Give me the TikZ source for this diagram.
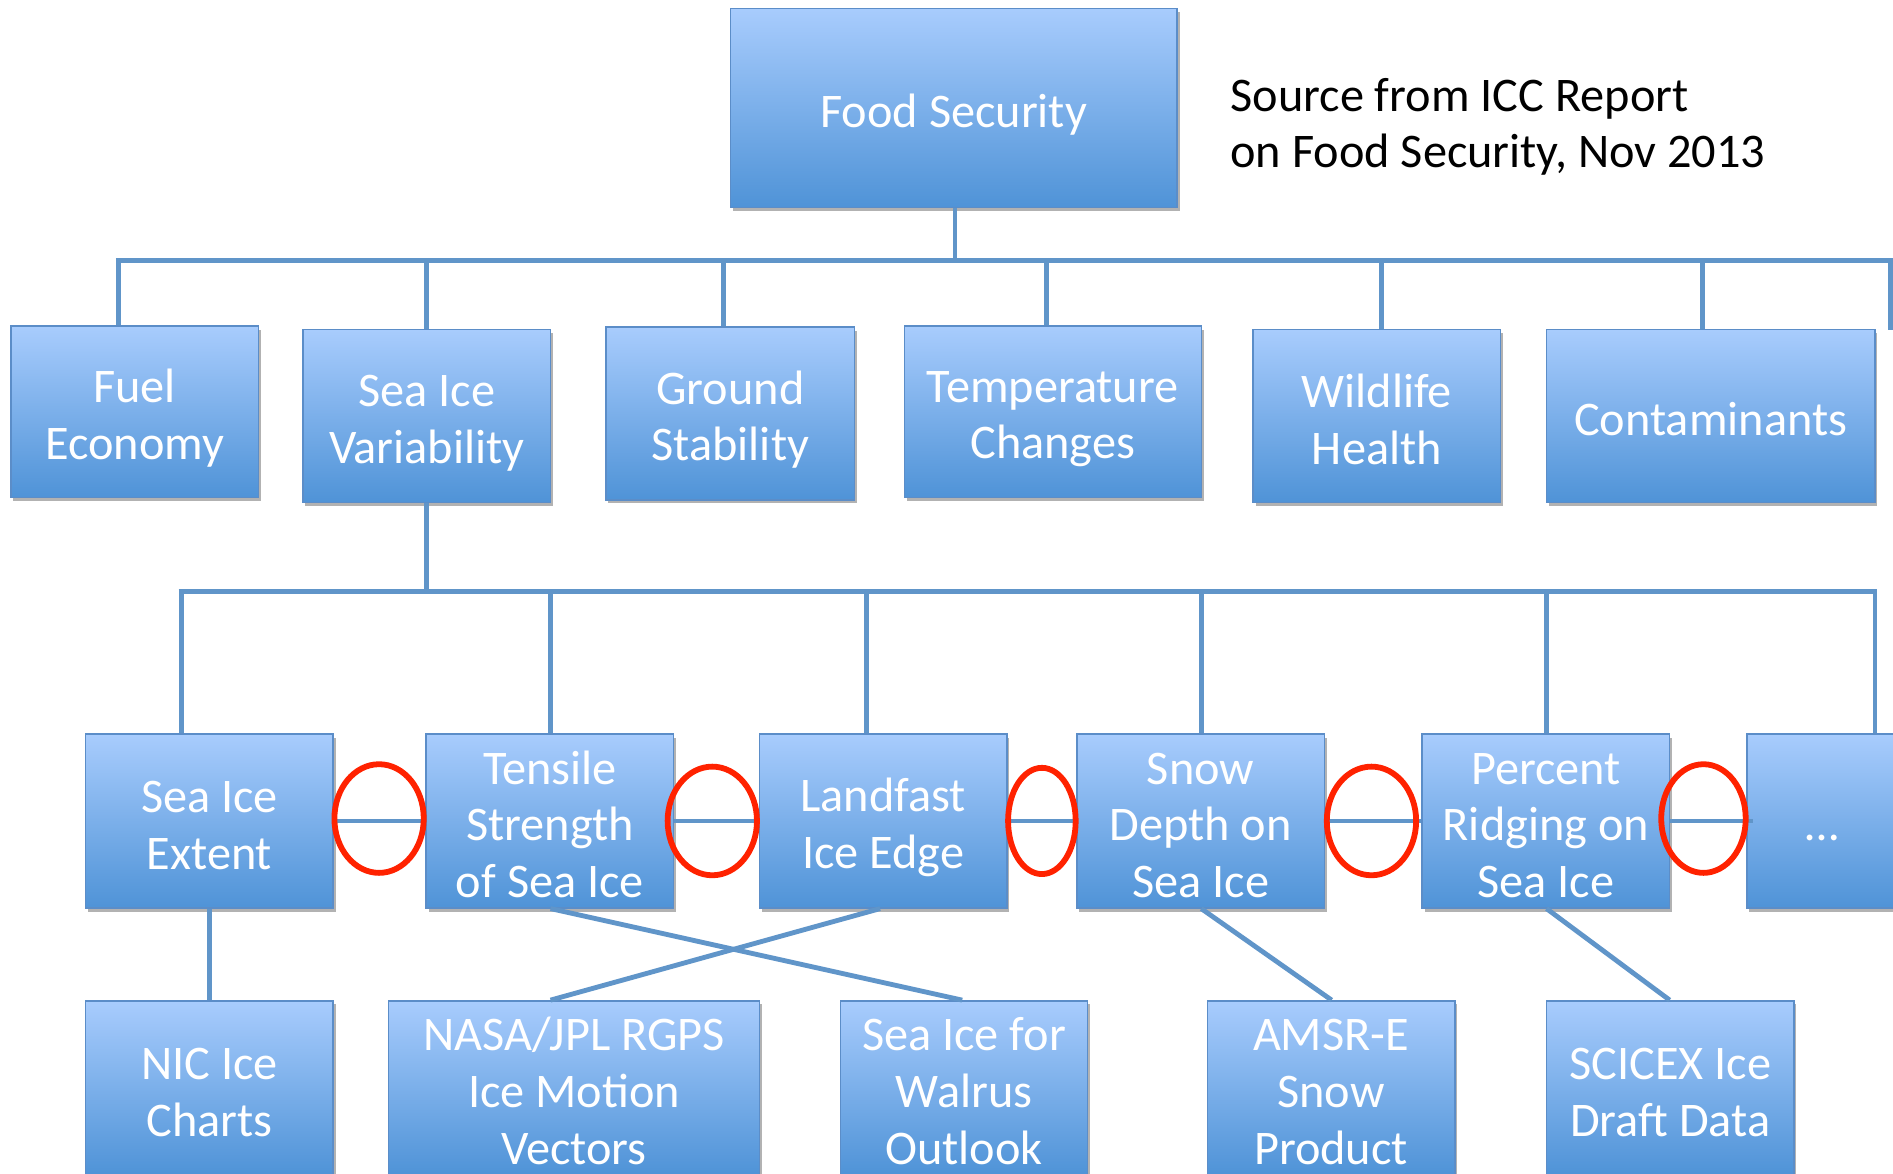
\documentclass[tikz,border=0pt]{standalone}
\usepackage{fontspec}
\setmainfont{Carlito}
\usetikzlibrary{shadows}
\definecolor{boxtop}{HTML}{A8CCFD}
\definecolor{boxbot}{HTML}{4F93D7}
\definecolor{boxline}{HTML}{5B8DC8}
\definecolor{conncol}{HTML}{6095C9}
\definecolor{ringred}{HTML}{FF2200}
\newcommand{\boxstrut}{\rule[-5pt]{0pt}{43pt}}
\tikzset{
  box/.style={rectangle, draw=boxline, line width=1.2pt, top color=boxtop, bottom color=boxbot,
    text=white, align=center, font=\fontsize{40}{47}\selectfont, inner sep=0pt,
    drop shadow={shadow xshift=2pt, shadow yshift=-3pt, opacity=0.3, fill=black}},
  conn/.style={draw=conncol, line width=4pt},
  ring/.style={draw=ringred, line width=4.8pt},
}
\begin{document}
\begin{tikzpicture}[x=1pt,y=-1pt]
\fill[white] (0,0) rectangle (1568,972);
\useasboundingbox (0,0) rectangle (1568,972);
\clip (0,0) rectangle (1568,972);

% level 1
\node[box, minimum width=370pt, minimum height=165pt] (food) at (790,89.5) {\boxstrut Food Security\boxstrut};
\node[anchor=west, align=left, text=black, font=\fontsize{40}{47}\selectfont, inner sep=0pt] (src) at (1019,105) {Source from ICC Report\\on Food Security, Nov 2013};

% level 2
\node[box, minimum width=205pt, minimum height=142pt] (fuel) at (111.5,341) {\boxstrut Fuel\\Economy\boxstrut};
\node[box, minimum width=205pt, minimum height=143pt] (siv) at (353.5,344.5) {\boxstrut Sea Ice\\Variability\boxstrut};
\node[box, minimum width=206pt, minimum height=143pt] (ground) at (605,342.5) {\boxstrut Ground\\Stability\boxstrut};
\node[box, minimum width=246pt, minimum height=142pt] (temp) at (872,341) {\boxstrut Temperature\\Changes\boxstrut};
\node[box, minimum width=205pt, minimum height=143pt] (wild) at (1140.5,344.5) {\boxstrut Wildlife\\Health\boxstrut};
\node[box, minimum width=272pt, minimum height=143pt] (cont) at (1417,344.5) {\boxstrut Contaminants\boxstrut};

% level 3
\node[box, minimum width=205pt, minimum height=144pt] (ext) at (173.5,680) {\boxstrut Sea Ice\\Extent\boxstrut};
\node[box, minimum width=205pt, minimum height=144pt] (ten) at (455.5,680) {\boxstrut Tensile\\Strength\\of Sea Ice\boxstrut};
\node[box, minimum width=205pt, minimum height=144pt] (land) at (731.5,680) {\boxstrut Landfast\\Ice Edge\boxstrut};
\node[box, minimum width=205pt, minimum height=144pt] (snow) at (994.5,680) {\boxstrut Snow\\Depth on\\Sea Ice\boxstrut};
\node[box, minimum width=205pt, minimum height=144pt] (pct) at (1280.5,680) {\boxstrut Percent\\Ridging on\\Sea Ice\boxstrut};
\node[box, minimum width=124pt, minimum height=144pt] (more) at (1509,680) {\boxstrut …\boxstrut};

% level 4
\node[box, minimum width=205pt, minimum height=144pt] (nic) at (173.5,901) {\boxstrut NIC Ice\\Charts\boxstrut};
\node[box, minimum width=307pt, minimum height=144pt] (nasa) at (475.5,901) {\boxstrut NASA/JPL RGPS\\Ice Motion\\Vectors\boxstrut};
\node[box, minimum width=205pt, minimum height=144pt] (walrus) at (798.5,901) {\boxstrut Sea Ice for\\Walrus\\Outlook\boxstrut};
\node[box, minimum width=205pt, minimum height=144pt] (amsr) at (1102.5,901) {\boxstrut AMSR-E\\Snow\\Product\boxstrut};
\node[box, minimum width=205pt, minimum height=144pt] (scicex) at (1383.5,901) {\boxstrut SCICEX Ice\\Draft Data\boxstrut};

% connectors level 1 -> 2
\coordinate (b1) at (791,216);
\draw[conn] (food.south -| b1) -- (b1);
\draw[conn] (96,216) -- (1570,216);
\draw[conn] (98,216) -- (98,0 |- fuel.north);
\draw[conn] (353,216) -- (353,0 |- siv.north);
\draw[conn] (599,216) -- (599,0 |- ground.north);
\draw[conn] (867,216) -- (867,0 |- temp.north);
\draw[conn] (1144,216) -- (1144,0 |- wild.north);
\draw[conn] (1410,216) -- (1410,0 |- cont.north);
\draw[conn] (1566,216) -- (1566,273);

% connectors level 2 -> 3
\coordinate (b2) at (353,490);
\draw[conn] (siv.south -| b2) -- (b2);
\draw[conn] (148,490) -- (1555,490);
\draw[conn] (150,490) -- (150,0 |- ext.north);
\draw[conn] (456,490) -- (456,0 |- ten.north);
\draw[conn] (718,490) -- (718,0 |- land.north);
\draw[conn] (995,490) -- (995,0 |- snow.north);
\draw[conn] (1281,490) -- (1281,0 |- pct.north);
\draw[conn] (1553,490) -- (1553,0 |- more.north);

% connectors level 3 -> 4
\draw[conn] (ext.south) -- (ext.south |- nic.north);
\draw[conn] (456,0 |- ten.south) -- (797,0 |- walrus.north);
\draw[conn] (729,0 |- land.south) -- (456,0 |- nasa.north);
\draw[conn] (995,0 |- snow.south) -- (1103,0 |- amsr.north);
\draw[conn] (1281,0 |- pct.south) -- (1383,0 |- scicex.north);

% horizontal links between level 3
\draw[conn, line width=3.5pt] (ext.east) -- (ten.west);
\draw[conn, line width=3.5pt] (ten.east) -- (land.west);
\draw[conn, line width=3.5pt] (land.east) -- (snow.west);
\draw[conn, line width=3.5pt] (snow.east) -- (pct.west);
\draw[conn, line width=3.5pt] (pct.east) -- (1452,680);

% red rings
\draw[ring] (314,678) ellipse [x radius=37pt, y radius=45pt];
\draw[ring] (590,680) ellipse [x radius=37pt, y radius=45pt];
\draw[ring] (863,680) ellipse [x radius=28pt, y radius=44pt];
\draw[ring] (1136,680) ellipse [x radius=37pt, y radius=45pt];
\draw[ring] (1411,678) ellipse [x radius=35pt, y radius=45pt];
\end{tikzpicture}
\end{document}
